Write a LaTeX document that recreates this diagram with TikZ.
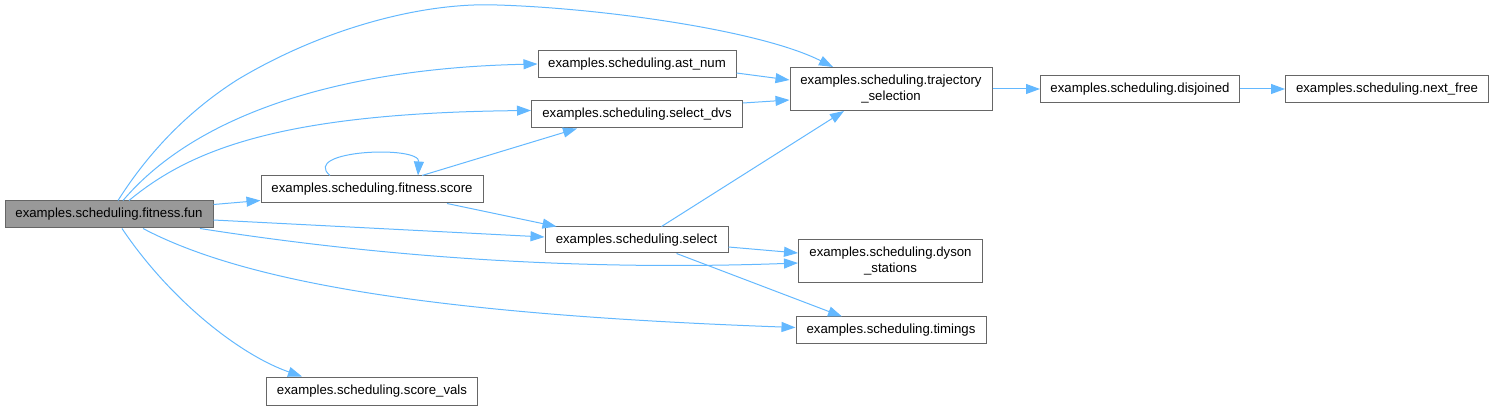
\documentclass[tikz,border=0pt]{standalone}
\usepackage{fontspec}
\setmainfont{Liberation Sans}
\usetikzlibrary{arrows.meta}
\definecolor{edgeblue}{HTML}{63B8FF}
\definecolor{bord}{HTML}{666666}
\definecolor{curfill}{HTML}{999999}
\begin{document}
\begin{tikzpicture}[x=1pt,y=-1pt,
  box/.style={draw=bord,line width=1pt,fill=white,inner sep=0pt,align=center,
    font=\fontsize{13.2}{16}\selectfont},
  link/.style={draw=edgeblue,line width=1pt,-{Triangle[length=14pt,width=10pt]}}]
\useasboundingbox (0,0) rectangle (1493,411);
% nodes
\node[box,fill=curfill,minimum width=208pt,minimum height=27pt] (fun) at (109,214.5) {examples.scheduling.fitness.fun};
\node[box,minimum width=198pt,minimum height=27pt] (ast) at (637,64) {examples.scheduling.ast\_num};
\node[box,minimum width=211pt,minimum height=27pt] (dvs) at (637,114.5) {examples.scheduling.select\_dvs};
\node[box,minimum width=202pt,minimum height=43pt] (traj) at (891,89) {examples.scheduling.trajectory\\\_selection};
\node[box,minimum width=199pt,minimum height=27pt] (disj) at (1140,89) {examples.scheduling.disjoined};
\node[box,minimum width=203pt,minimum height=27pt] (nfree) at (1387,89) {examples.scheduling.next\_free};
\node[box,minimum width=222pt,minimum height=27pt] (score) at (372,189.5) {examples.scheduling.fitness.score};
\node[box,minimum width=183pt,minimum height=26pt] (sel) at (636.5,240) {examples.scheduling.select};
\node[box,minimum width=184pt,minimum height=43pt] (dyson) at (890.5,261.5) {examples.scheduling.dyson\\\_stations};
\node[box,minimum width=190pt,minimum height=27pt] (tim) at (891,330.5) {examples.scheduling.timings};
\node[box,minimum width=211pt,minimum height=28pt] (svals) at (372,391) {examples.scheduling.score\_vals};
% edges from fun
\draw[link] ([xshift=9pt]fun.north) .. controls (150,150) and (190,110) .. (237,80)
  .. controls (320,30) and (420,2) .. (497,5)
  .. controls (600,8) and (760,30) .. ([xshift=-58pt]traj.north);
\draw[link] ([xshift=14pt]fun.north) .. controls (200,110) and (350,68) .. (ast.west);
\draw[link] ([xshift=20pt]fun.north) .. controls (190,150) and (280,113) .. ([yshift=4pt]dvs.west);
\draw[link] ([yshift=10pt]fun.east) -- ([yshift=-11pt]score.west);
\draw[link] ([yshift=-5.5pt]fun.east) -- ([yshift=3pt]sel.west);
\draw[link] ([xshift=91pt]fun.south) .. controls (350,252) and (550,272) .. ([yshift=-1.5pt]dyson.west);
\draw[link] ([xshift=34pt]fun.south) .. controls (250,285) and (450,315) .. ([yshift=3pt]tim.west);
\draw[link] ([xshift=13pt]fun.south) .. controls (170,300) and (240,355) .. ([xshift=-70pt]svals.north);
% score edges
\draw[link] ([xshift=-42pt]score.north) .. controls (300,150) and (420,145) .. ([xshift=46pt]score.north);
\draw[link] ([xshift=50pt]score.north) -- ([xshift=-60pt]dvs.south);
\draw[link] ([xshift=75pt]score.south) -- ([xshift=-80pt]sel.north);
% into trajectory
\draw[link] ([yshift=-9pt]ast.east) -- ([yshift=9pt]traj.west);
\draw[link] ([yshift=11.5pt]dvs.east) -- ([yshift=-11pt]traj.west);
\draw[link] ([xshift=25pt]sel.north) -- ([xshift=-47pt]traj.south);
% select edges
\draw[link] ([yshift=-7pt]sel.east) -- ([yshift=8.5pt]dyson.west);
\draw[link] ([xshift=40pt]sel.south) -- ([xshift=-49pt]tim.north);
% chain
\draw[link] (traj.east) -- (disj.west);
\draw[link] (disj.east) -- (nfree.west);
\end{tikzpicture}
\end{document}
